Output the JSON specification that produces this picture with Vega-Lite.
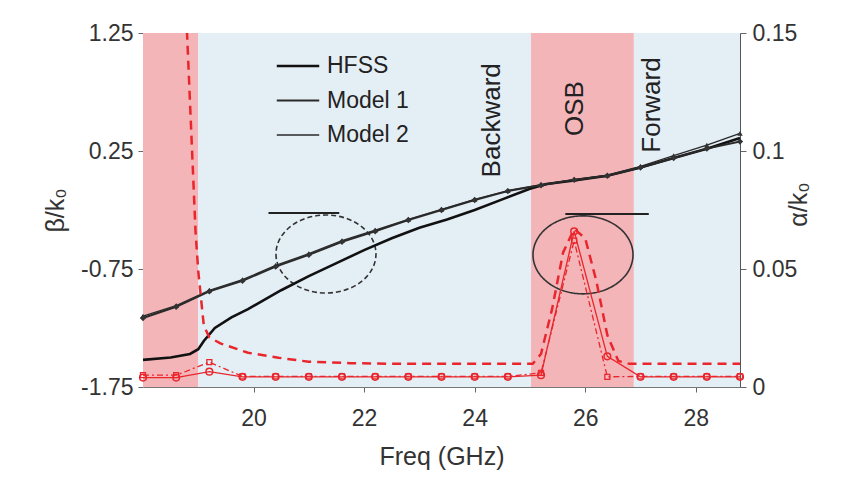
{
  "$schema": "https://vega.github.io/schema/vega-lite/v6.json",
  "width": 597,
  "height": 354,
  "autosize": {"type": "none"},
  "padding": {"left": 143, "top": 33, "right": 102, "bottom": 104},
  "background": "white",
  "config": {
    "view": {"stroke": null},
    "font": "Liberation Sans",
    "axis": {"grid": false, "labelFont": "Liberation Sans", "titleFont": "Liberation Sans", "labelColor": "#333", "titleColor": "#333", "titleFontWeight": "normal", "labelFontSize": 23, "titleFontSize": 25, "tickColor": "#666", "domainColor": "#777"},
    "axisX": {"labelPadding": 15, "tickSize": 5, "titlePadding": 14, "domain": true},
    "legend": {"labelFont": "Liberation Sans"}
  },
  "datasets": {
    "regions": [
      {"f": 18.0, "f2": 19.0, "kind": "stop"},
      {"f": 19.0, "f2": 25.02, "kind": "pass"},
      {"f": 25.02, "f2": 26.88, "kind": "stop"},
      {"f": 26.88, "f2": 28.8, "kind": "pass"}
    ],
    "labels": [
      {"f": 24.31, "b": 0.51, "text": "Backward"},
      {"f": 25.82, "b": 0.61, "text": "OSB"},
      {"f": 27.2, "b": 0.64, "text": "Forward"}
    ],
    "pointers": [
      {"f": 20.27, "f2": 21.55, "b": -0.275},
      {"f": 25.64, "f2": 27.15, "b": -0.284}
    ],
    "ellipses": [
      {"f": 21.31, "b": -0.623, "axis": "beta"},
      {"f": 25.96, "b": -0.63, "axis": "alpha"}
    ],
    "beta": [
      {"f": 18.0, "b": -1.52, "series": "HFSS"},
      {"f": 18.5, "b": -1.5, "series": "HFSS"},
      {"f": 18.85, "b": -1.47, "series": "HFSS"},
      {"f": 19.0, "b": -1.43, "series": "HFSS"},
      {"f": 19.1, "b": -1.36, "series": "HFSS"},
      {"f": 19.3, "b": -1.25, "series": "HFSS"},
      {"f": 19.6, "b": -1.16, "series": "HFSS"},
      {"f": 19.9, "b": -1.09, "series": "HFSS"},
      {"f": 20.5, "b": -0.93, "series": "HFSS"},
      {"f": 21.0, "b": -0.81, "series": "HFSS"},
      {"f": 21.5, "b": -0.7, "series": "HFSS"},
      {"f": 22.0, "b": -0.59, "series": "HFSS"},
      {"f": 22.5, "b": -0.49, "series": "HFSS"},
      {"f": 23.0, "b": -0.4, "series": "HFSS"},
      {"f": 23.5, "b": -0.33, "series": "HFSS"},
      {"f": 24.0, "b": -0.25, "series": "HFSS"},
      {"f": 24.5, "b": -0.16, "series": "HFSS"},
      {"f": 25.0, "b": -0.07, "series": "HFSS"},
      {"f": 25.3, "b": -0.03, "series": "HFSS"},
      {"f": 25.8, "b": 0.0, "series": "HFSS"},
      {"f": 26.4, "b": 0.04, "series": "HFSS"},
      {"f": 27.0, "b": 0.11, "series": "HFSS"},
      {"f": 27.6, "b": 0.19, "series": "HFSS"},
      {"f": 28.2, "b": 0.27, "series": "HFSS"},
      {"f": 28.8, "b": 0.36, "series": "HFSS"},
      {"f": 18.0, "b": -1.165, "series": "Model 1"},
      {"f": 18.6, "b": -1.07, "series": "Model 1"},
      {"f": 19.2, "b": -0.94, "series": "Model 1"},
      {"f": 19.8, "b": -0.85, "series": "Model 1"},
      {"f": 20.4, "b": -0.73, "series": "Model 1"},
      {"f": 21.0, "b": -0.63, "series": "Model 1"},
      {"f": 21.6, "b": -0.52, "series": "Model 1"},
      {"f": 22.2, "b": -0.43, "series": "Model 1"},
      {"f": 22.8, "b": -0.335, "series": "Model 1"},
      {"f": 23.4, "b": -0.25, "series": "Model 1"},
      {"f": 24.0, "b": -0.165, "series": "Model 1"},
      {"f": 24.6, "b": -0.09, "series": "Model 1"},
      {"f": 25.2, "b": -0.04, "series": "Model 1"},
      {"f": 25.8, "b": 0.005, "series": "Model 1"},
      {"f": 26.4, "b": 0.04, "series": "Model 1"},
      {"f": 27.0, "b": 0.11, "series": "Model 1"},
      {"f": 27.6, "b": 0.19, "series": "Model 1"},
      {"f": 28.2, "b": 0.27, "series": "Model 1"},
      {"f": 28.8, "b": 0.33, "series": "Model 1"},
      {"f": 18.0, "b": -1.15, "series": "Model 2"},
      {"f": 18.6, "b": -1.06, "series": "Model 2"},
      {"f": 19.2, "b": -0.93, "series": "Model 2"},
      {"f": 19.8, "b": -0.84, "series": "Model 2"},
      {"f": 20.4, "b": -0.72, "series": "Model 2"},
      {"f": 21.0, "b": -0.62, "series": "Model 2"},
      {"f": 21.6, "b": -0.51, "series": "Model 2"},
      {"f": 22.2, "b": -0.42, "series": "Model 2"},
      {"f": 22.8, "b": -0.33, "series": "Model 2"},
      {"f": 23.4, "b": -0.245, "series": "Model 2"},
      {"f": 24.0, "b": -0.16, "series": "Model 2"},
      {"f": 24.6, "b": -0.085, "series": "Model 2"},
      {"f": 25.2, "b": -0.035, "series": "Model 2"},
      {"f": 25.8, "b": 0.01, "series": "Model 2"},
      {"f": 26.4, "b": 0.045, "series": "Model 2"},
      {"f": 27.0, "b": 0.12, "series": "Model 2"},
      {"f": 27.6, "b": 0.21, "series": "Model 2"},
      {"f": 28.2, "b": 0.3, "series": "Model 2"},
      {"f": 28.8, "b": 0.4, "series": "Model 2"}
    ],
    "alpha": [
      {"f": 18.76, "a": 0.17, "model": "HFSS"},
      {"f": 18.95, "a": 0.066, "model": "HFSS"},
      {"f": 19.0, "a": 0.049, "model": "HFSS"},
      {"f": 19.1, "a": 0.026, "model": "HFSS"},
      {"f": 19.2, "a": 0.021, "model": "HFSS"},
      {"f": 19.4, "a": 0.0185, "model": "HFSS"},
      {"f": 19.9, "a": 0.0145, "model": "HFSS"},
      {"f": 20.45, "a": 0.0124, "model": "HFSS"},
      {"f": 21.0, "a": 0.0107, "model": "HFSS"},
      {"f": 21.75, "a": 0.0101, "model": "HFSS"},
      {"f": 22.5, "a": 0.0098, "model": "HFSS"},
      {"f": 25.05, "a": 0.0098, "model": "HFSS"},
      {"f": 25.2, "a": 0.014, "model": "HFSS"},
      {"f": 25.4, "a": 0.033, "model": "HFSS"},
      {"f": 25.6, "a": 0.057, "model": "HFSS"},
      {"f": 25.8, "a": 0.067, "model": "HFSS"},
      {"f": 26.0, "a": 0.063, "model": "HFSS"},
      {"f": 26.2, "a": 0.045, "model": "HFSS"},
      {"f": 26.4, "a": 0.022, "model": "HFSS"},
      {"f": 26.6, "a": 0.011, "model": "HFSS"},
      {"f": 26.8, "a": 0.0098, "model": "HFSS"},
      {"f": 28.8, "a": 0.0098, "model": "HFSS"},
      {"f": 18.0, "a": 0.004, "model": "Model 1"},
      {"f": 18.6, "a": 0.004, "model": "Model 1"},
      {"f": 19.2, "a": 0.0065, "model": "Model 1"},
      {"f": 19.8, "a": 0.0043, "model": "Model 1"},
      {"f": 20.4, "a": 0.0043, "model": "Model 1"},
      {"f": 21.0, "a": 0.0043, "model": "Model 1"},
      {"f": 21.6, "a": 0.0043, "model": "Model 1"},
      {"f": 22.2, "a": 0.0043, "model": "Model 1"},
      {"f": 22.8, "a": 0.0043, "model": "Model 1"},
      {"f": 23.4, "a": 0.0043, "model": "Model 1"},
      {"f": 24.0, "a": 0.0043, "model": "Model 1"},
      {"f": 24.6, "a": 0.0043, "model": "Model 1"},
      {"f": 25.2, "a": 0.005, "model": "Model 1"},
      {"f": 25.8, "a": 0.066, "model": "Model 1"},
      {"f": 26.4, "a": 0.013, "model": "Model 1"},
      {"f": 27.0, "a": 0.0043, "model": "Model 1"},
      {"f": 27.6, "a": 0.0043, "model": "Model 1"},
      {"f": 28.2, "a": 0.0043, "model": "Model 1"},
      {"f": 28.8, "a": 0.0043, "model": "Model 1"},
      {"f": 18.0, "a": 0.005, "model": "Model 2"},
      {"f": 18.6, "a": 0.005, "model": "Model 2"},
      {"f": 19.2, "a": 0.0105, "model": "Model 2"},
      {"f": 19.8, "a": 0.0045, "model": "Model 2"},
      {"f": 20.4, "a": 0.0045, "model": "Model 2"},
      {"f": 21.0, "a": 0.0045, "model": "Model 2"},
      {"f": 21.6, "a": 0.0045, "model": "Model 2"},
      {"f": 22.2, "a": 0.0045, "model": "Model 2"},
      {"f": 22.8, "a": 0.0045, "model": "Model 2"},
      {"f": 23.4, "a": 0.0045, "model": "Model 2"},
      {"f": 24.0, "a": 0.0045, "model": "Model 2"},
      {"f": 24.6, "a": 0.0045, "model": "Model 2"},
      {"f": 25.2, "a": 0.006, "model": "Model 2"},
      {"f": 25.8, "a": 0.062, "model": "Model 2"},
      {"f": 26.4, "a": 0.0043, "model": "Model 2"},
      {"f": 27.0, "a": 0.0045, "model": "Model 2"},
      {"f": 27.6, "a": 0.0045, "model": "Model 2"},
      {"f": 28.2, "a": 0.0045, "model": "Model 2"},
      {"f": 28.8, "a": 0.0045, "model": "Model 2"}
    ]
  },
  "layer": [
    {
      "data": {"name": "regions"},
      "mark": {"type": "rect"},
      "encoding": {
        "x": {"field": "f", "type": "quantitative", "scale": {"domain": [18, 28.8], "nice": false, "zero": false}, "axis": {"values": [20, 22, 24, 26, 28], "title": "Freq (GHz)"}},
        "x2": {"field": "f2"},
        "fill": {"field": "kind", "type": "nominal", "scale": {"domain": ["stop", "pass"], "range": ["#f4b5b9", "#e4eef5"]}, "legend": null}
      }
    },
    {
      "encoding": {
        "x": {"field": "f", "type": "quantitative", "scale": {"domain": [18, 28.8], "nice": false, "zero": false}, "axis": {"values": [20, 22, 24, 26, 28], "title": "Freq (GHz)"}},
        "y": {"field": "b", "type": "quantitative", "scale": {"domain": [-1.75, 1.25], "nice": false, "zero": false},
          "axis": {"orient": "left", "values": [-1.75, -0.75, 0.25, 1.25], "labelExpr": "datum.value < 0 ? '-' + format(-datum.value, '.2f') : format(datum.value, '.2f')", "domain": false, "tickSize": 5, "labelPadding": 5, "title": "β/k₀", "titleX": -88, "titleY": 177, "titleAngle": 270, "titleAlign": "center", "titleBaseline": "middle"}}
      },
      "layer": [
        {
          "data": {"name": "labels"},
          "mark": {"type": "text", "angle": 270, "align": "center", "baseline": "middle", "fontSize": 26, "font": "Liberation Sans", "color": "#222"},
          "encoding": {"text": {"field": "text"}}
        },
        {
          "data": {"name": "pointers"},
          "mark": {"type": "rule", "stroke": "#222", "strokeWidth": 2},
          "encoding": {"x2": {"field": "f2"}}
        },
        {
          "data": {"name": "ellipses"},
          "mark": {"type": "point", "shape": "M -1 0 A 1 0.78 0 1 0 1 0 A 1 0.78 0 1 0 -1 0 Z", "size": 10000, "filled": false, "stroke": "#333", "strokeWidth": 1.6, "opacity": 1},
          "encoding": {"strokeDash": {"field": "axis", "type": "nominal", "scale": {"domain": ["beta", "alpha"], "range": [[5, 3], [1, 0]]}, "legend": null}}
        },
        {
          "data": {"name": "beta"},
          "mark": {"type": "line"},
          "encoding": {
            "color": {"field": "series", "type": "nominal", "scale": {"domain": ["HFSS", "Model 1", "Model 2"], "range": ["#111111", "#2a2a2a", "#2a2a2a"]},
              "legend": {"orient": "none", "legendX": 132, "legendY": 10, "title": null, "symbolType": "stroke", "symbolSize": 1800, "labelFontSize": 23, "labelColor": "#222", "labelOffset": 6, "rowPadding": -15, "padding": 0}},
            "strokeWidth": {"field": "series", "type": "nominal", "scale": {"domain": ["HFSS", "Model 1", "Model 2"], "range": [2.6, 1.3, 1.3]}}
          }
        },
        {
          "data": {"name": "beta"},
          "transform": [{"filter": "datum.series === 'Model 1'"}],
          "mark": {"type": "point", "shape": "diamond", "filled": true, "size": 40, "color": "#333", "opacity": 1}
        },
        {
          "data": {"name": "beta"},
          "transform": [{"filter": "datum.series === 'Model 2'"}],
          "mark": {"type": "point", "shape": "triangle-up", "filled": true, "size": 30, "color": "#333", "opacity": 1}
        }
      ]
    },
    {
      "encoding": {
        "x": {"field": "f", "type": "quantitative", "scale": {"domain": [18, 28.8], "nice": false, "zero": false}, "axis": {"values": [20, 22, 24, 26, 28], "title": "Freq (GHz)"}},
        "y": {"field": "a", "type": "quantitative", "scale": {"domain": [0, 0.15], "nice": false, "zero": false},
          "axis": {"orient": "right", "values": [0, 0.05, 0.1, 0.15], "labelExpr": "datum.value == 0 ? '0' : format(datum.value, '.2~f')", "domain": true, "domainColor": "#555", "tickSize": 6, "labelPadding": 6, "title": "α/k₀", "titleX": 58, "titleY": 171, "titleAngle": 270, "titleAlign": "center", "titleBaseline": "middle"}}
      },
      "layer": [
        {
          "data": {"name": "alpha"},
          "transform": [{"filter": "datum.model === 'HFSS'"}],
          "mark": {"type": "line", "clip": true, "color": "#e8262c", "strokeWidth": 2.5, "strokeDash": [9, 6]}
        },
        {
          "data": {"name": "alpha"},
          "transform": [{"filter": "datum.model === 'Model 1'"}],
          "mark": {"type": "line", "color": "#e8262c", "strokeWidth": 1.3}
        },
        {
          "data": {"name": "alpha"},
          "transform": [{"filter": "datum.model === 'Model 2'"}],
          "mark": {"type": "line", "color": "#e8262c", "strokeWidth": 1.3, "strokeDash": [6, 3, 2, 3]}
        },
        {
          "data": {"name": "alpha"},
          "transform": [{"filter": "datum.model === 'Model 1'"}],
          "mark": {"type": "point", "shape": "circle", "filled": false, "size": 45, "stroke": "#e8262c", "strokeWidth": 1.5, "opacity": 1}
        },
        {
          "data": {"name": "alpha"},
          "transform": [{"filter": "datum.model === 'Model 2'"}],
          "mark": {"type": "point", "shape": "square", "filled": false, "size": 25, "stroke": "#e8262c", "strokeWidth": 1.3, "opacity": 1}
        }
      ]
    }
  ],
  "resolve": {"scale": {"y": "independent"}}
}
